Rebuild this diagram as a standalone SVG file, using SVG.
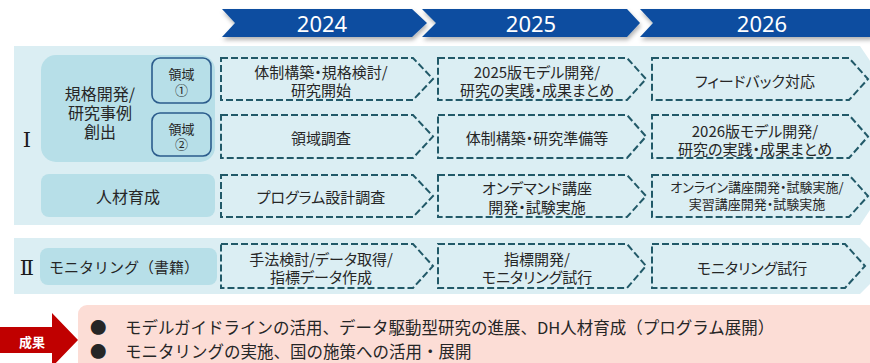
<svg xmlns="http://www.w3.org/2000/svg" width="870" height="363" viewBox="0 0 870 363">
<defs>
<filter id="sh" x="-5%" y="-20%" width="110%" height="160%">
<feDropShadow dx="1" dy="3" stdDeviation="2" flood-color="#000" flood-opacity="0.3"/>
</filter>
<style>
text{font-family:"Noto Sans CJK JP","Noto Sans",sans-serif;fill:#262626;text-anchor:middle;dominant-baseline:central;font-feature-settings:"palt"}
.yr{fill:#0B4EA0}
.yt{font-family:"Noto Sans","Open Sans",sans-serif;font-size:22px;fill:#fff}
.band{fill:#DBEEF3}
.lbl{fill:#B7DFE8}
.area{fill:#B7DFE8;stroke:#2B5C8C;stroke-width:1.6}
.step{fill:none;stroke:#215968;stroke-width:2;stroke-dasharray:7 3}
.t15{font-size:15px}
.t13{font-size:13px}
.t16{font-size:16px}
.rom{font-family:"DejaVu Serif","Liberation Serif",serif;font-size:21px;fill:#1a1a1a}
.res{font-size:16.5px;text-anchor:start;font-feature-settings:normal}
</style>
</defs>

<g id="year-2024">
<polygon class="yr" filter="url(#sh)" points="222,9 412,9 427,23 412,37 222,37 235,23"/>
<text class="yt" x="322" y="23">2024</text>
</g>
<g id="year-2025">
<polygon class="yr" filter="url(#sh)" points="422,9 627,9 640,23 627,37 422,37 436,23"/>
<text class="yt" x="531" y="23">2025</text>
</g>
<g id="year-2026">
<polygon class="yr" filter="url(#sh)" points="640,9 872,9 872,37 640,37 653,23"/>
<text class="yt" x="762" y="23">2026</text>
</g>

<g id="band-1">
<polygon class="band" points="14,46 860,46 920,135 860,225 14,225"/>
<text class="rom" x="27" y="140">Ⅰ</text>
</g>
<g id="band-2">
<polygon class="band" points="14,238 860,238 888,266 860,294 14,294"/>
<text class="rom" x="27" y="268">Ⅱ</text>
</g>

<g id="label-kikaku">
<rect class="lbl" x="41" y="55" width="174" height="107" rx="15"/>
<text class="t16"><tspan x="100" y="93">規格開発/</tspan><tspan x="100" y="112">研究事例</tspan><tspan x="100" y="131">創出</tspan></text>
</g>
<g id="area-1">
<rect class="area" x="152" y="58" width="59" height="45" rx="8"/>
<text class="t13"><tspan x="181.5" y="73">領域</tspan><tspan x="181.5" y="89">①</tspan></text>
</g>
<g id="area-2">
<rect class="area" x="152" y="113" width="59" height="43" rx="8"/>
<text class="t13"><tspan x="181.5" y="128">領域</tspan><tspan x="181.5" y="143">②</tspan></text>
</g>
<g id="label-jinzai">
<rect class="lbl" x="41" y="174" width="174" height="43" rx="8"/>
<text class="t16" x="128" y="196">人材育成</text>
</g>
<g id="label-monitoring">
<rect class="lbl" x="40" y="248" width="177" height="37" rx="8"/>
<text class="t15" x="124" y="266" style="font-feature-settings:normal">モニタリング（書籍）</text>
</g>

<g id="s-1-2024">
<polygon class="step" points="221,58 413,58 433,79 413,100 221,100"/>
<text class="t15"><tspan x="321" y="71">体制構築・規格検討/</tspan><tspan x="321" y="89">研究開始</tspan></text>
</g>
<g id="s-1-2025">
<polygon class="step" points="438,58 627,58 646,79 627,100 438,100"/>
<text class="t15"><tspan x="537" y="71">2025版モデル開発/</tspan><tspan x="537" y="89">研究の実践・成果まとめ</tspan></text>
</g>
<g id="s-1-2026">
<polygon class="step" points="652,58 849,58 868,79 849,100 652,100"/>
<text class="t15" x="755" y="80">フィードバック対応</text>
</g>

<g id="s-2-2024">
<polygon class="step" points="221,115 413,115 433,136.5 413,158 221,158"/>
<text class="t15" x="321" y="137">領域調査</text>
</g>
<g id="s-2-2025">
<polygon class="step" points="438,115 627,115 646,136.5 627,158 438,158"/>
<text class="t15" x="537" y="137">体制構築・研究準備等</text>
</g>
<g id="s-2-2026">
<polygon class="step" points="652,115 849,115 868,136.5 849,158 652,158"/>
<text class="t15"><tspan x="755" y="130">2026版モデル開発/</tspan><tspan x="755" y="148">研究の実践・成果まとめ</tspan></text>
</g>

<g id="s-3-2024">
<polygon class="step" points="221,175 413,175 433,196 413,217 221,217"/>
<text class="t15" x="321" y="196">プログラム設計調査</text>
</g>
<g id="s-3-2025">
<polygon class="step" points="438,175 627,175 646,196 627,217 438,217"/>
<text class="t15"><tspan x="537" y="187">オンデマンド講座</tspan><tspan x="537" y="206">開発・試験実施</tspan></text>
</g>
<g id="s-3-2026">
<polygon class="step" points="652,175 849,175 868,196 849,217 652,217"/>
<text class="t13"><tspan x="757" y="186">オンライン講座開発・試験実施/</tspan><tspan x="757" y="203">実習講座開発・試験実施</tspan></text>
</g>

<g id="s-4-2024">
<polygon class="step" points="221,244 413,244 433,266 413,288 221,288"/>
<text class="t15"><tspan x="321" y="258">手法検討/データ取得/</tspan><tspan x="321" y="276">指標データ作成</tspan></text>
</g>
<g id="s-4-2025">
<polygon class="step" points="438,244 627,244 646,266 627,288 438,288"/>
<text class="t15"><tspan x="537" y="258">指標開発/</tspan><tspan x="537" y="276">モニタリング試行</tspan></text>
</g>
<g id="s-4-2026">
<polygon class="step" points="652,244 845,244 865,266 845,288 652,288"/>
<text class="t15" x="752" y="267">モニタリング試行</text>
</g>

<g id="results">
<rect x="78" y="305" width="820" height="80" rx="9" fill="#FCDDD6"/>
<text class="res"><tspan x="90" y="327">●</tspan><tspan x="125" y="327">モデルガイドラインの活用、データ駆動型研究の進展、DH人材育成（プログラム展開）</tspan><tspan x="90" y="351">●</tspan><tspan x="125" y="351">モニタリングの実施、国の施策への活用・展開</tspan></text>
</g>
<g id="result-arrow">
<polygon points="0,327 52,327 52,313 78,340 52,367 52,353 0,353" fill="#C00000"/>
<text x="32" y="341" style="font-size:13px;font-weight:bold;fill:#fff">成果</text>
</g>
<g id="connectors"/>
</svg>
